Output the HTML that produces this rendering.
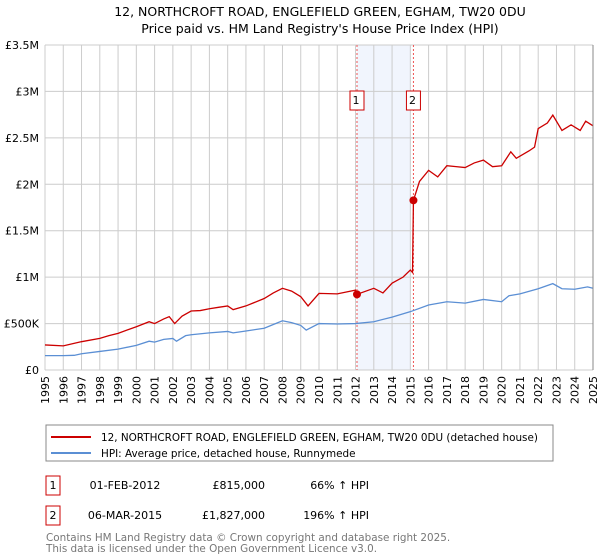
<!DOCTYPE html>
<html><head><meta charset="utf-8"><style>
body{margin:0;background:#fff;font-family:"DejaVu Sans","Liberation Sans",sans-serif;}
svg{display:block}
</style></head><body>
<svg width="600" height="560" viewBox="0 0 600 560" id="c">
<text x="320" y="16" text-anchor="middle" font-size="12.5">12, NORTHCROFT ROAD, ENGLEFIELD GREEN, EGHAM, TW20 0DU</text>
<text x="320" y="33" text-anchor="middle" font-size="12.5">Price paid vs. HM Land Registry's House Price Index (HPI)</text>
<g id="grid"></g>
<g id="marks"></g>
<g id="axes"></g>
<rect x="46" y="425" width="507" height="36" fill="none" stroke="#888"/>
<line x1="51" y1="437" x2="91" y2="437" stroke="#cc0000" stroke-width="2"/>
<text x="101" y="441" font-size="10.4">12, NORTHCROFT ROAD, ENGLEFIELD GREEN, EGHAM, TW20 0DU (detached house)</text>
<line x1="51" y1="453" x2="91" y2="453" stroke="#5b8fd4" stroke-width="2"/>
<text x="101" y="457" font-size="10.4">HPI: Average price, detached house, Runnymede</text>
<g font-size="11">
<rect x="46" y="476" width="14" height="19" fill="#fff" stroke="#cc0000"/>
<text x="53" y="489" text-anchor="middle">1</text>
<text x="125" y="489" text-anchor="middle">01-FEB-2012</text>
<text x="265" y="489" text-anchor="end">£815,000</text>
<text x="369" y="489" text-anchor="end">66% ↑ HPI</text>
<rect x="46" y="506" width="14" height="19" fill="#fff" stroke="#cc0000"/>
<text x="53" y="519" text-anchor="middle">2</text>
<text x="125" y="519" text-anchor="middle">06-MAR-2015</text>
<text x="265" y="519" text-anchor="end">£1,827,000</text>
<text x="369" y="519" text-anchor="end">196% ↑ HPI</text>
</g>
<text x="46" y="541" font-size="10.4" fill="#777">Contains HM Land Registry data © Crown copyright and database right 2025.</text>
<text x="46" y="552" font-size="10.4" fill="#777">This data is licensed under the Open Government Licence v3.0.</text>
</svg>
<script>
const yTicks=[0,500000,1000000,1500000,2000000,2500000,3000000,3500000];
const yTickLabels=["£0","£500K","£1M","£1.5M","£2M","£2.5M","£3M","£3.5M"];
const years=[1995,1996,1997,1998,1999,2000,2001,2002,2003,2004,2005,2006,2007,2008,2009,2010,2011,2012,2013,2014,2015,2016,2017,2018,2019,2020,2021,2022,2023,2024,2025];
const hpiT=[1995,1996,1996.6,1997,1998,1999,2000,2000.7,2001,2001.5,2002,2002.2,2002.7,2003,2004,2005,2005.3,2006,2007,2007.5,2008,2008.5,2009,2009.3,2010,2011,2012,2013,2014,2015,2016,2017,2018,2019,2020,2020.4,2021,2022,2022.8,2023.3,2024,2024.7,2025];
const hpiV=[155,155,158,175,200,225,265,310,300,330,340,310,370,380,400,415,400,420,450,490,530,510,480,430,500,495,500,520,570,628,700,735,720,760,735,800,820,875,930,875,870,895,880];
const priceT=[1995,1996,1997,1998,1998.5,1999,2000,2000.7,2001,2001.5,2001.8,2002.1,2002.5,2003,2003.5,2004,2004.5,2005,2005.3,2006,2007,2007.5,2008,2008.5,2009,2009.4,2010,2011,2012,2012.08,2013,2013.5,2014,2014.6,2015,2015.12,2015.17,2015.5,2016,2016.5,2017,2017.5,2018,2018.5,2019,2019.5,2020,2020.5,2020.8,2021.5,2021.8,2022,2022.5,2022.8,2023.3,2023.8,2024.3,2024.6,2025];
const priceV=[270,260,305,340,370,395,466,520,500,550,575,500,580,635,640,660,675,690,650,690,770,830,880,850,790,690,825,820,860,815,880,830,935,1000,1076,1050,1827,2030,2150,2080,2200,2190,2180,2230,2260,2190,2200,2350,2280,2360,2400,2600,2660,2745,2580,2640,2580,2680,2630];
const sales=[[2012.08,815],[2015.17,1827]];
const L=45,R=593,T=45,B=370,Y0=1995,Y1=2025,VMAX=3500000;
const sx=t=>L+(t-Y0)/(Y1-Y0)*(R-L);
const sy=v=>B-v/VMAX*(B-T);
const NS="http://www.w3.org/2000/svg";
function mk(tag,attrs,parent,txt){const e=document.createElementNS(NS,tag);for(const k in attrs)e.setAttribute(k,attrs[k]);if(txt!==undefined)e.textContent=txt;document.getElementById(parent).appendChild(e);return e;}
let sh=mk('rect',{x:sx(sales[0][0]),y:T,width:sx(2015.0)-sx(sales[0][0]),height:B-T,fill:'#eef3fd',opacity:0.8},'grid');


years.forEach(y=>{const l=mk('line',{x1:sx(y),x2:sx(y),y1:T,y2:B,stroke:'#ccc','stroke-width':1},'grid');


const t=mk('text',{x:0,y:0,'font-size':11,'text-anchor':'end',transform:`translate(${sx(y)+4},${B+6}) rotate(-90)`},'axes',String(y));

});
yTicks.forEach((v,i)=>{const l=mk('line',{x1:L,x2:R,y1:sy(v),y2:sy(v),stroke:'#ccc','stroke-width':1},'grid');


const t=mk('text',{x:L-6,y:sy(v)+4,'font-size':11,'text-anchor':'end'},'axes',yTickLabels[i]);

});
sales.forEach((s,i)=>{const l=mk('line',{x1:sx(s[0]),x2:sx(s[0]),y1:T,y2:B,stroke:'#e55','stroke-width':1,'stroke-dasharray':'2,2'},'marks');


const r=mk('rect',{x:sx(s[0])-7,y:91,width:14,height:19,fill:'#fff',stroke:'#cc0000'},'marks');


const t=mk('text',{x:sx(s[0])-1,y:104,'font-size':11,'text-anchor':'middle'},'marks',String(i+1));

});
const hp=mk('polyline',{points:hpiT.map((t,i)=>sx(t)+','+sy(hpiV[i]*1000)).join(' '),fill:'none',stroke:'#5b8fd4','stroke-width':1.3},'marks');


const pp=mk('polyline',{points:priceT.map((t,i)=>sx(t)+','+sy(priceV[i]*1000)).join(' '),fill:'none',stroke:'#cc0000','stroke-width':1.3},'marks');


sales.forEach(s=>{const c=mk('circle',{cx:sx(s[0]),cy:sy(s[1]*1000),r:4,fill:'#cc0000'},'marks');

});
const rb=mk('line',{x1:R,x2:R,y1:T,y2:B,stroke:'#888'},'axes');


</script>
</body></html>
